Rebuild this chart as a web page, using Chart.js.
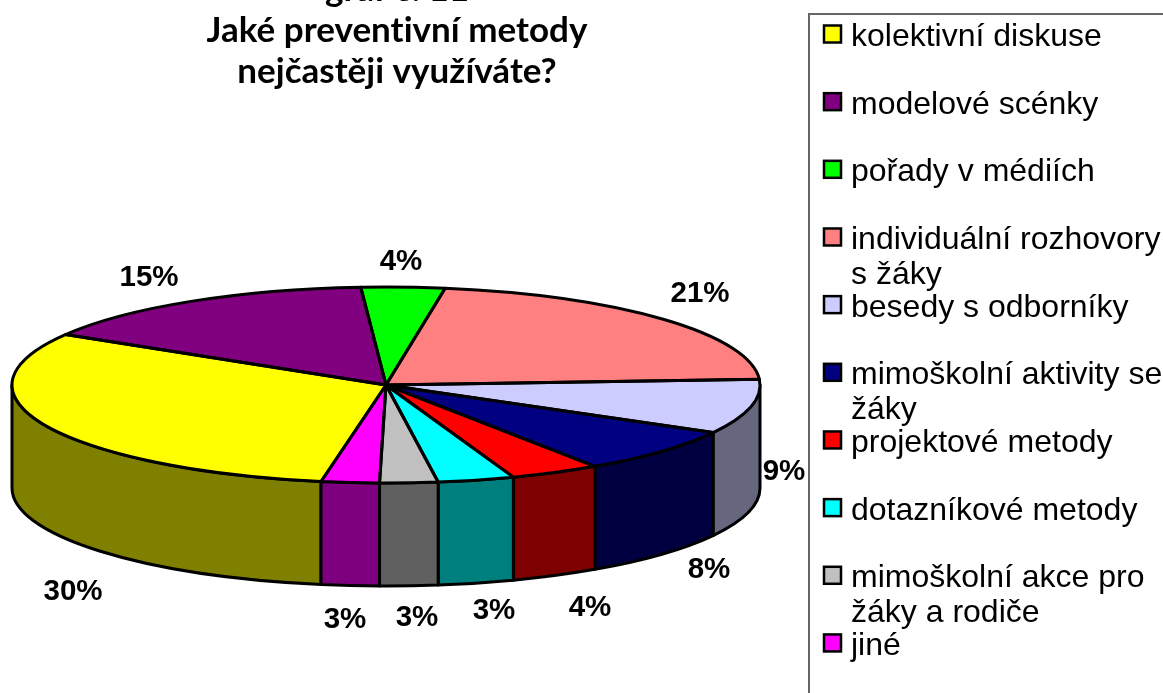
<!DOCTYPE html>
<html><head><meta charset="utf-8">
<style>html,body{margin:0;padding:0;background:#fff}#w{position:absolute;left:0;top:0;width:1163px;height:693px}</style>
<script src="https://cdn.jsdelivr.net/npm/chart.js@4/dist/chart.umd.min.js"></script>
</head><body><div id="w"><canvas id="c" width="1163" height="693"></canvas></div>
<script>
const categories = ["kolektivní diskuse","modelové scénky","pořady v médiích","individuální rozhovory\ns žáky","besedy s odborníky","mimoškolní aktivity se\nžáky","projektové metody","dotazníkové metody","mimoškolní akce pro\nžáky a rodiče","jiné"];
// shares as they appear on the drawn (perspective) pie
const seriesValues = [30.8,15.3,3.6,21.5,9.0,7.5,3.9,3.3,2.5,2.5];
// percentages as printed beside the slices
const percentLabels = [30,15,4,21,9,8,4,3,3,3];
const sliceColors = ["#FFFF00","#800080","#00FF00","#FF8080","#CCCCFF","#000080","#FF0000","#00FFFF","#C0C0C0","#FF00FF"];
const titleLines = ["graf č. 11","Jaké preventivní metody","nejčastěji využíváte?"];
const labelCentres = [[73,592],[149,278],[401,262],[700,294],[784,472],[709,570],[590,608],[494,611],[417,618],[345,620]];

const CX=386, CY=385, RX=374, RY=98, DEPTH=103, LINE=3;
const half = h => { const n=parseInt(h.slice(1),16);
  return `rgb(${(n>>16&255)>>1},${(n>>8&255)>>1},${(n&255)>>1})`; };
const TAU=Math.PI*2;

function face(ctx,a0,a1,dy,anti){ ctx.ellipse(CX,CY+dy,RX,RY,0,a0,a1,anti); }
function wallRange(a0,a1){ // visible (front) part of an arc; front half is 0..PI
  let s=a0, e=a1;
  while(s>=Math.PI){s-=TAU;e-=TAU;}
  while(s<-Math.PI){s+=TAU;e+=TAU;}
  const lo=Math.max(s,0), hi=Math.min(e,Math.PI);
  return hi>lo?[lo,hi]:null;
}
const pie3d = {
  id:'pie3d',
  beforeDatasetsDraw(chart){
    const ctx=chart.ctx, arcs=chart.getDatasetMeta(0).data;
    // side walls
    arcs.forEach((arc,i)=>{
      const r=wallRange(arc.startAngle,arc.endAngle); if(!r) return;
      ctx.save();
      ctx.beginPath();
      face(ctx,r[0],r[1],0,false);
      face(ctx,r[1],r[0],DEPTH,true);
      ctx.closePath();
      ctx.fillStyle=half(sliceColors[i]); ctx.fill();
      ctx.lineWidth=LINE; ctx.strokeStyle='#000'; ctx.lineJoin='round'; ctx.stroke();
      ctx.restore();
    });
    // top face through the library's own arc elements, squeezed to an ellipse
    const a=arcs[0];
    ctx.save();
    ctx.translate(CX,CY);
    ctx.scale(RX/a.outerRadius,RY/a.outerRadius);
    ctx.translate(-a.x,-a.y);
  },
  afterDatasetsDraw(chart){
    const ctx=chart.ctx, arcs=chart.getDatasetMeta(0).data;
    ctx.restore();
    ctx.save();
    ctx.lineWidth=LINE; ctx.strokeStyle='#000'; ctx.lineJoin='round';
    arcs.forEach(arc=>{
      ctx.beginPath();
      ctx.moveTo(CX,CY);
      face(ctx,arc.startAngle,arc.endAngle,0,false);
      ctx.closePath();
      ctx.stroke();
    });
    ctx.restore();
  },
  afterDraw(chart){
    const ctx=chart.ctx;
    ctx.save();
    // title
    ctx.fillStyle='#000'; ctx.textAlign='center'; ctx.textBaseline='alphabetic';
    ctx.font='bold 35px Lato';
    ctx.letterSpacing='0.01px';
    const tb=[1,42,83];
    titleLines.forEach((t,i)=>ctx.fillText(t,397,tb[i]));
    ctx.letterSpacing='0px';
    // percent labels
    ctx.font='bold 29.5px "Liberation Sans"'; ctx.textBaseline='middle';
    percentLabels.forEach((v,i)=>ctx.fillText(v+'%',labelCentres[i][0],labelCentres[i][1]));
    // legend frame: runs off the right and bottom of the picture
    ctx.strokeStyle='#666'; ctx.lineWidth=2;
    ctx.beginPath(); ctx.moveTo(809,693); ctx.lineTo(809,14); ctx.lineTo(1163,14); ctx.stroke();
    // legend entries
    ctx.textAlign='left'; ctx.textBaseline='alphabetic';
    ctx.font='32px "Liberation Sans"';
    chart.data.labels.forEach((lab,i)=>{
      const yc=34+i*67.66;
      ctx.fillStyle=sliceColors[i]; ctx.fillRect(824,yc-8.5,17,17);
      ctx.strokeStyle='#000'; ctx.lineWidth=2.5; ctx.strokeRect(824,yc-8.5,17,17);
      ctx.fillStyle='#000';
      lab.split('\n').forEach((ln,k)=>ctx.fillText(ln,851,yc+12+k*35));
    });
    ctx.restore();
  }
};
new Chart(document.getElementById('c'),{
  type:'pie',
  data:{labels:categories,datasets:[{data:seriesValues,backgroundColor:sliceColors,borderWidth:0,clip:false}]},
  options:{responsive:false,animation:false,rotation:190,
    layout:{padding:0},
    plugins:{legend:{display:false},tooltip:{enabled:false},title:{display:false}}},
  plugins:[pie3d]
});
</script></body></html>
